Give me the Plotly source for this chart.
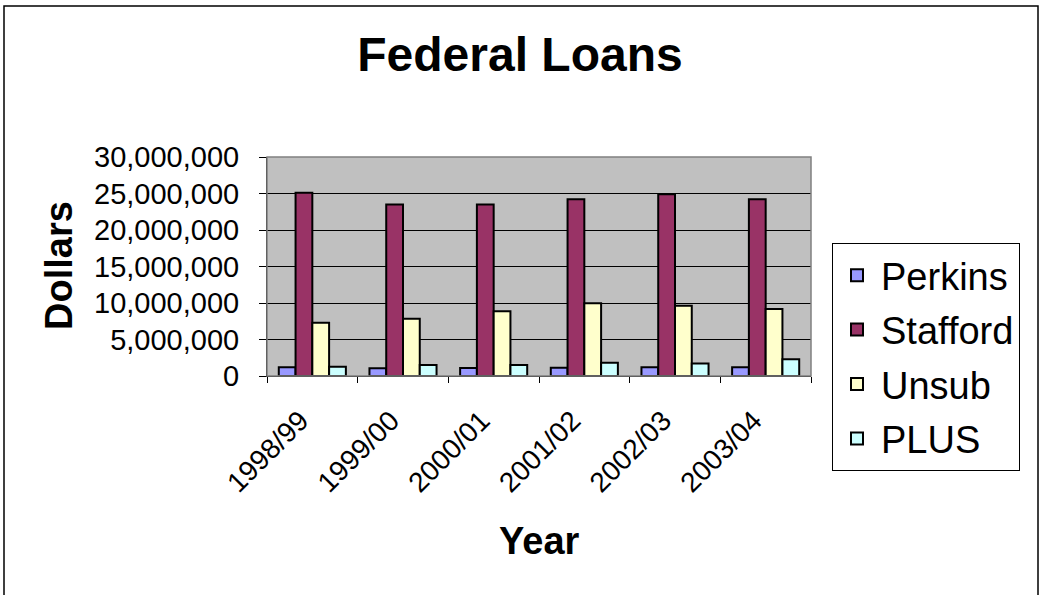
import plotly.graph_objects as go

years = ["1998/99", "1999/00", "2000/01", "2001/02", "2002/03", "2003/04"]
perkins = [1200000, 1050000, 1100000, 1140000, 1200000, 1200000]
stafford = [25100000, 23500000, 23500000, 24200000, 24900000, 24200000]
unsub = [7300000, 7850000, 8860000, 9960000, 9630000, 9180000]
plus = [1270000, 1500000, 1500000, 1820000, 1700000, 2280000]

series = [
    ("Perkins", perkins, "#9999FF"),
    ("Stafford", stafford, "#993366"),
    ("Unsub", unsub, "#FFFFCC"),
    ("PLUS", plus, "#CCFFFF"),
]

FONT = "Arial, Liberation Sans, sans-serif"

W, H = 1040, 595
L, R, T, B = 267, 811, 157, 376

fig = go.Figure()
for i, (name, vals, color) in enumerate(series):
    fig.add_trace(go.Bar(
        x=years, y=vals, name=name, legendgroup=f"g{i}",
        marker=dict(color=color, line=dict(color="black", width=2)),
    ))

def px_x(p):
    return (p - L) / (R - L)

def px_y(p):
    return (B - p) / (B - T)

fig.update_layout(
    width=W, height=H,
    margin=dict(l=L, r=W - R, t=T, b=H - B, pad=0, autoexpand=False),
    paper_bgcolor="white",
    plot_bgcolor="#C0C0C0",
    barmode="group",
    bargap=0.26,
    bargroupgap=0,
    font=dict(family=FONT, color="black"),
    title=dict(text="<b>Federal Loans</b>", x=0.5, xref="container", xanchor="center",
               y=1 - 54 / H, yref="container", yanchor="middle",
               font=dict(size=48, family=FONT, color="black")),
    xaxis=dict(
        type="category", tickangle=-45, tickfont=dict(size=28, family=FONT),
        ticks="outside", tickson="boundaries", ticklen=6, tickcolor="black",
        showline=True, linecolor="black", linewidth=1, showgrid=False,
        automargin=False, ticklabelshift=-12, ticklabelstandoff=16,
    ),
    yaxis=dict(
        range=[0, 30000000], dtick=5000000, tickformat=",d",
        tickfont=dict(size=29, family=FONT),
        ticks="outside", ticklen=7, tickcolor="black",
        showline=True, linecolor="black", linewidth=1,
        showgrid=True, gridcolor="black", gridwidth=1,
        zeroline=False, ticklabelstandoff=14, automargin=False,
    ),
    legend=dict(
        x=px_x(832), y=px_y(243), xanchor="left", yanchor="top",
        xref="paper", yref="paper", maxheight=400,
        bordercolor="black", borderwidth=1, bgcolor="white",
        font=dict(size=38, family=FONT), tracegroupgap=2,
        itemwidth=38,
    ),
    showlegend=True,
    annotations=[
        dict(text="<b>Year</b>", x=0.5, y=px_y(541), xref="paper", yref="paper",
             xanchor="center", yanchor="middle", showarrow=False,
             font=dict(size=38, family=FONT)),
        dict(text="<b>Dollars</b>", x=px_x(59), y=px_y(266), xref="paper", yref="paper",
             xanchor="center", yanchor="middle", showarrow=False, textangle=-90,
             font=dict(size=38, family=FONT)),
    ],
    shapes=[
        dict(type="rect", xref="paper", yref="paper", x0=0, x1=1, y0=0, y1=1,
             line=dict(color="#808080", width=1.5), layer="above"),
        dict(type="rect", xref="paper", yref="paper",
             x0=px_x(4), x1=px_x(1038), y0=px_y(6), y1=px_y(605),
             line=dict(color="black", width=1.5)),
    ],
)

fig.write_html(
    "out.html",
    config={"displayModeBar": False},
    post_script="document.body.style.margin='0';document.body.style.overflow='hidden';",
)
